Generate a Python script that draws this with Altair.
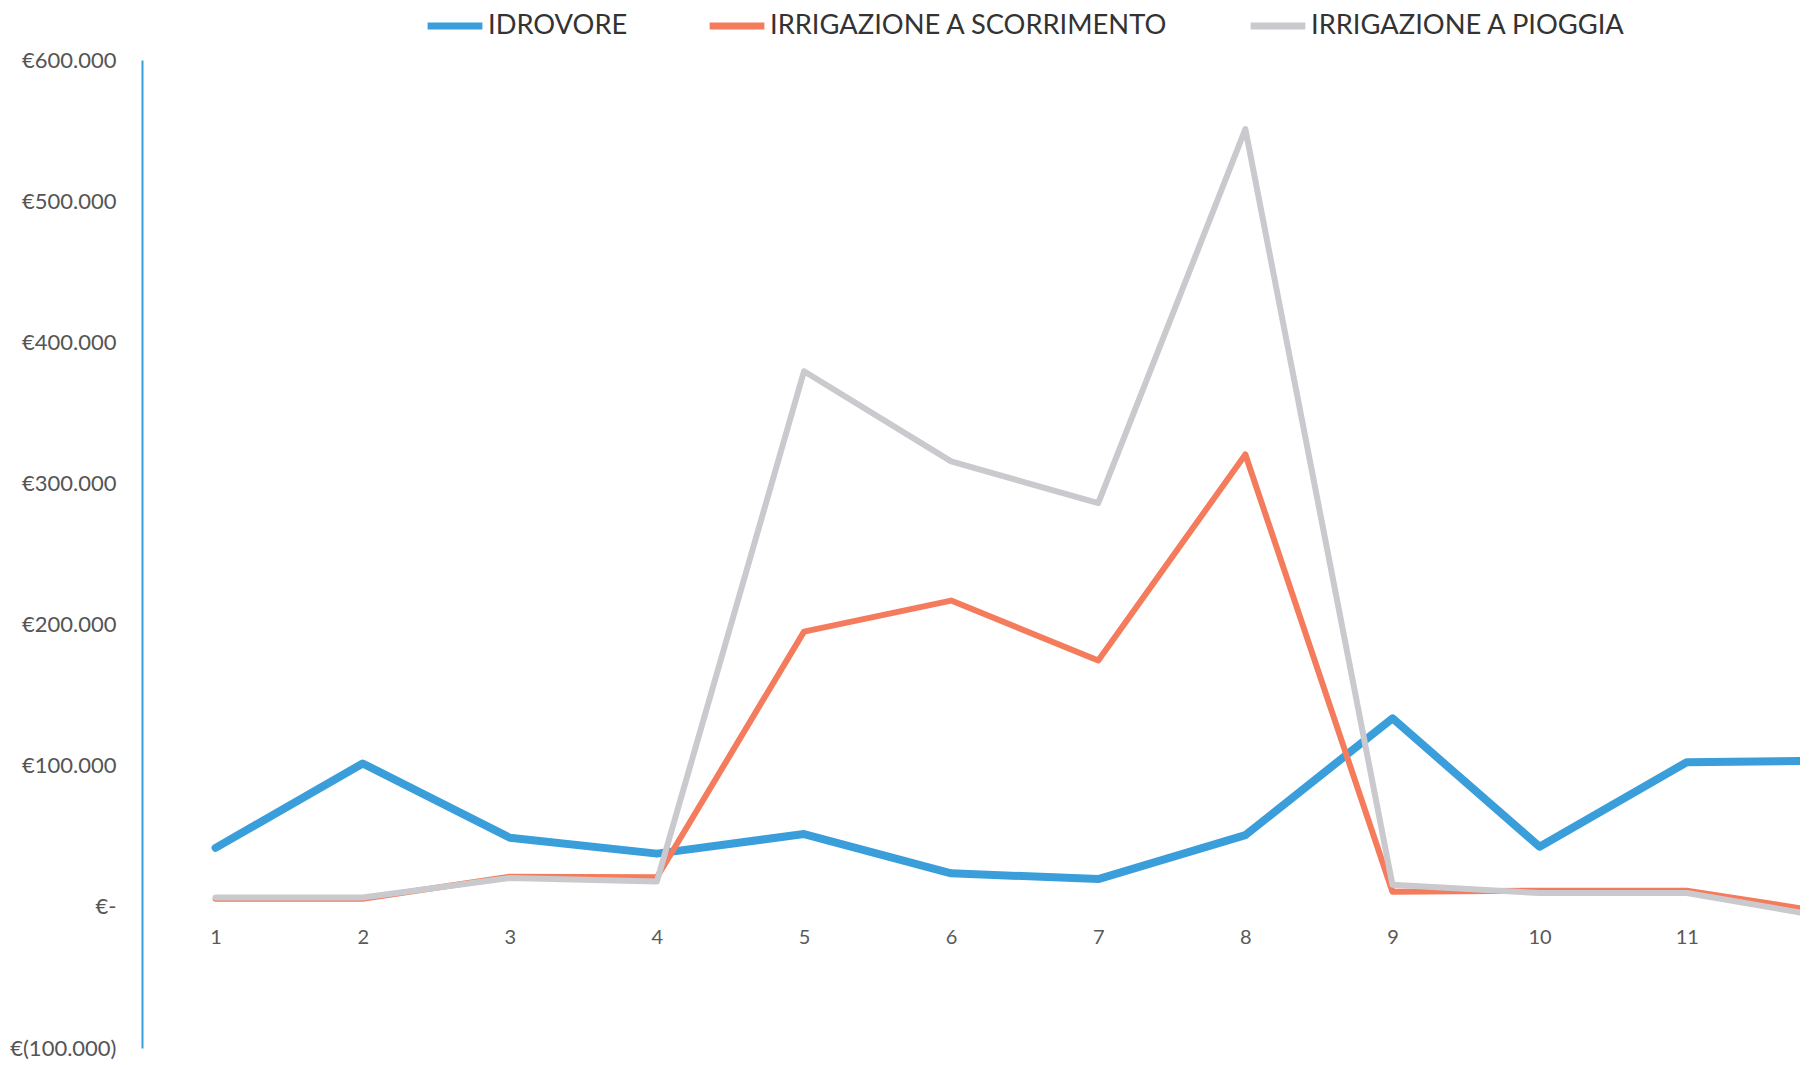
import altair as alt
import pandas as pd

periods = [1, 2, 3, 4, 5, 6, 7, 8, 9, 10, 11, 12]
idrovore = [41800, 101600, 49000, 37700, 51600, 23800, 19700, 50800, 133600, 42600, 102500, 103500]
scorrimento = [5700, 5700, 21300, 21000, 195000, 217000, 174600, 320500, 10700, 11500, 11500, -4700]
pioggia = [6600, 6600, 20500, 18000, 379500, 315600, 286000, 551000, 15600, 9800, 9800, -8100]

series_names = ["IDROVORE", "IRRIGAZIONE A SCORRIMENTO", "IRRIGAZIONE A PIOGGIA"]
series_colors = ["#3A9EDB", "#F47C5C", "#CACACE"]
series_widths = [8, 6, 6]
y_ticks = [-100000, 0, 100000, 200000, 300000, 400000, 500000, 600000]
x_ticks = [1, 2, 3, 4, 5, 6, 7, 8, 9, 10, 11]

rows = []
for name, vals in zip(series_names, [idrovore, scorrimento, pioggia]):
    for p, v in zip(periods, vals):
        rows.append({"periodo": p, "valore": v, "serie": name})
df = pd.DataFrame(rows)

x_enc = alt.X(
    "periodo:Q",
    scale=alt.Scale(domain=[0.5, 11.77], nice=False, zero=False),
    axis=alt.Axis(
        values=x_ticks, format="d", title=None, grid=False, ticks=False, domain=False,
        offset=-141, labelPadding=20, labelFont="Lato", labelFontSize=20,
        labelColor="#595959", labelFlush=False,
    ),
)
y_enc = alt.Y(
    "valore:Q",
    scale=alt.Scale(domain=[-100000, 600000], nice=False),
    axis=alt.Axis(
        values=y_ticks, title=None, grid=False, ticks=False,
        domain=True, domainColor="#3A9EDB", domainWidth=2,
        labelPadding=26, labelFont="Lato", labelFontSize=22, labelColor="#555555",
        labelExpr="datum.value == 0 ? '€-' : (datum.value < 0 ? '€(' + format(-datum.value/1000, 'd') + '.000)' : '€' + format(datum.value/1000, 'd') + '.000')",
    ),
)
color_enc = alt.Color(
    "serie:N",
    scale=alt.Scale(domain=series_names, range=series_colors),
    legend=alt.Legend(
        title=None, orient="none", direction="horizontal", legendX=282, legendY=-65,
        symbolType="stroke", symbolSize=3000, symbolStrokeWidth=7,
        labelFont="Lato", labelFontSize=27.3, labelColor="#333333",
        labelOffset=2, columnPadding=67, labelLimit=600,
    ),
)

layers = []
for name, w in zip(series_names, series_widths):
    layers.append(
        alt.Chart(df)
        .transform_filter(alt.datum.serie == name)
        .mark_line(strokeWidth=w, strokeJoin="round", strokeCap="round", clip=True)
        .encode(x=x_enc, y=y_enc, color=color_enc)
    )

chart = (
    alt.layer(*layers)
    .properties(
        width=1658, height=988,
        autosize=alt.AutoSizeParams(type="none"),
        padding={"left": 134, "top": 52, "right": 5, "bottom": 15},
        view=alt.ViewBackground(stroke="transparent", strokeWidth=0),
    )
    .configure_view(stroke="transparent", strokeWidth=0)
    .configure(background="white")
)

chart.save("out.html", embed_options={"renderer": "svg", "actions": False})
